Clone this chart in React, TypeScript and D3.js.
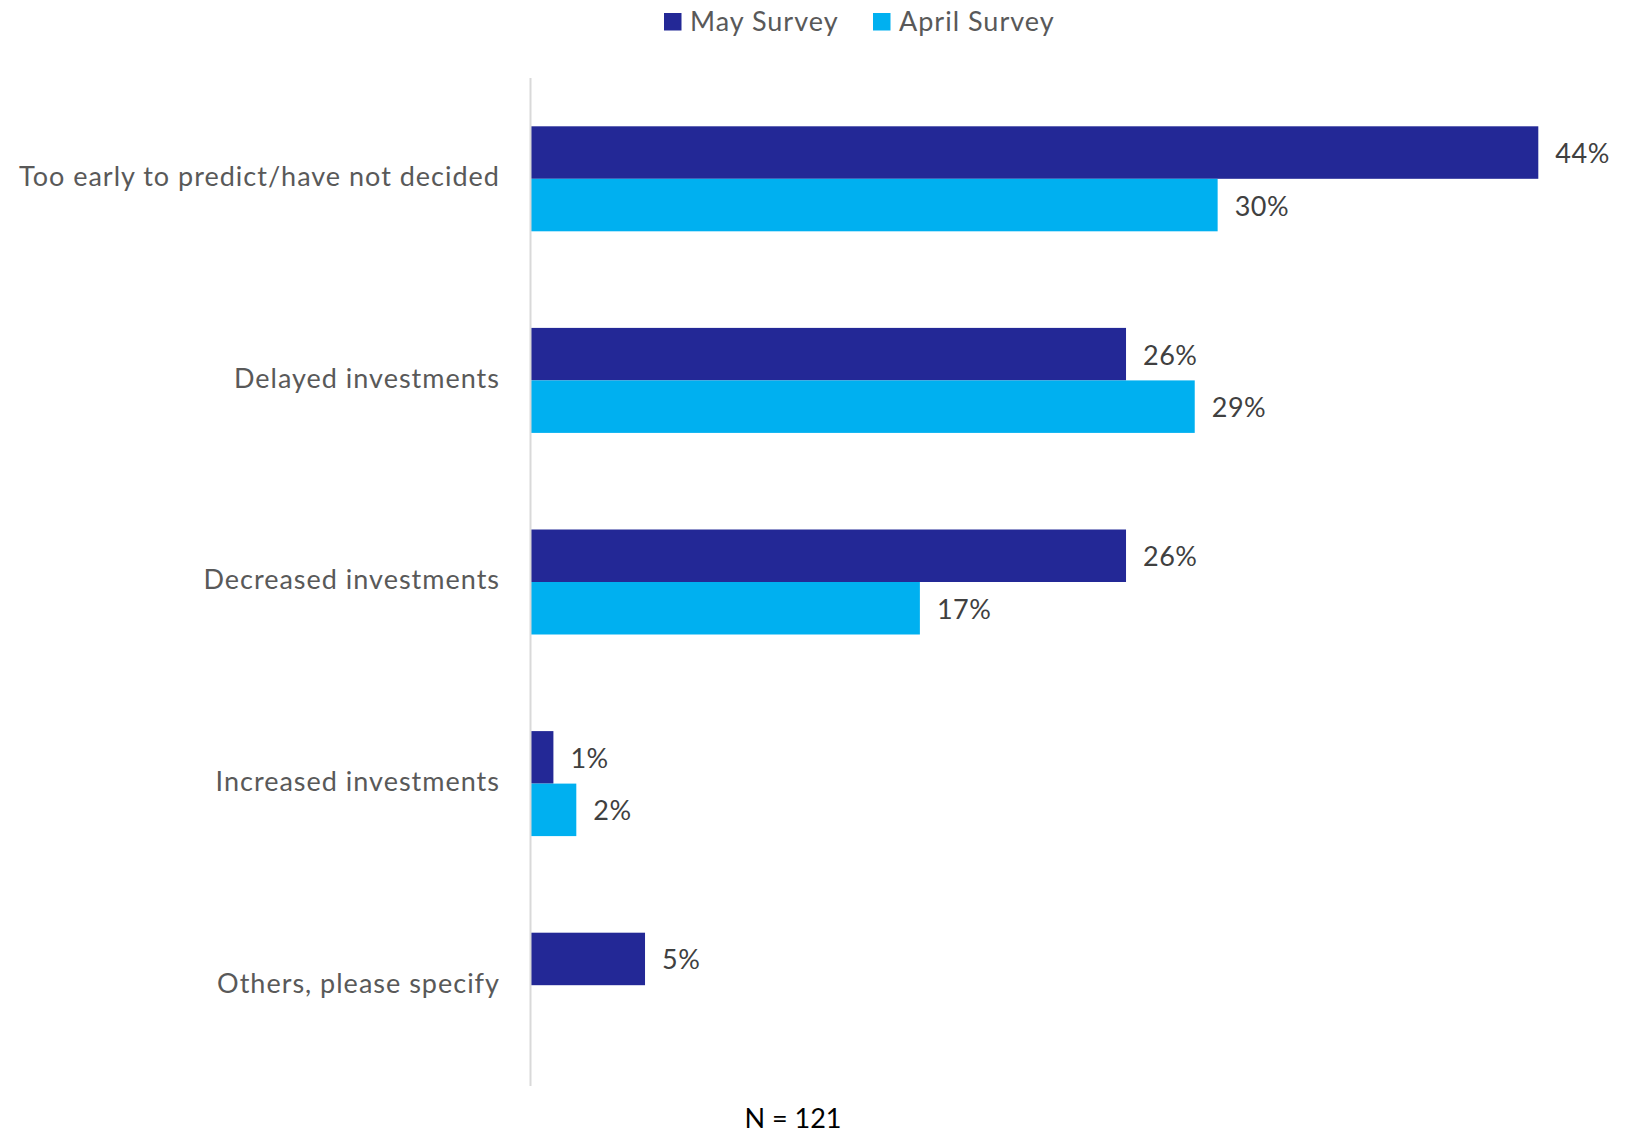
import React from "react";
import * as d3 from "d3";

const categories = [
  "Too early to predict/have not decided",
  "Delayed investments",
  "Decreased investments",
  "Increased investments",
  "Others, please specify",
];
const seriesNames = ["May Survey", "April Survey"];
const mayValues = [44, 26, 26, 1, 5];
const aprilValues: (number | null)[] = [30, 29, 17, 2, null];
const colors = ["#232896", "#00b0f0"];
const footnote = "N = 121";

const W = 1631;
const H = 1132;
const FONT = "Lato, 'Open Sans', sans-serif";

export default function App() {
  const x = d3.scaleLinear().domain([0, 44]).range([530.5, 1538.3]);
  const y = d3.scaleBand<string>().domain(categories).range([78, 1086]).paddingInner(0).paddingOuter(0);
  const bw = y.bandwidth();
  const barH = 52.5;
  const inner = d3.scaleBand<string>().domain(seriesNames).range([bw / 2 - barH, bw / 2 + barH]);
  const series = [mayValues, aprilValues];

  return (
    <svg width={W} height={H} style={{ position: "absolute", left: 0, top: 0, background: "#fff" }}>
      <rect x={0} y={0} width={W} height={H} fill="#fff" />
      {/* legend */}
      <g fontFamily={FONT} fontSize={27} fill="#595959" letterSpacing={1}>
        <rect x={664} y={13} width={17.5} height={17.5} fill={colors[0]} />
        <text x={690} y={20} dominantBaseline="central">{seriesNames[0]}</text>
        <rect x={873} y={13} width={17.5} height={17.5} fill={colors[1]} />
        <text x={899} y={20} dominantBaseline="central">{seriesNames[1]}</text>
      </g>
      {/* bars */}
      {categories.map((c, i) => (
        <g key={c} transform={`translate(0,${y(c)})`}>
          {series.map((vals, s) => {
            const v = vals[i];
            if (v == null) return null;
            const yy = inner(seriesNames[s])!;
            return (
              <g key={s}>
                <rect x={x(0)} y={yy} width={x(v) - x(0)} height={inner.bandwidth()} fill={colors[s]} />
                <text
                  x={x(v) + 17}
                  y={yy + inner.bandwidth() / 2}
                  dominantBaseline="central"
                  fontFamily={FONT}
                  fontSize={27}
                  letterSpacing={0.5}
                  fill="#404040"
                >
                  {v}%
                </text>
              </g>
            );
          })}
          <text
            x={500}
            y={bw / 2 - 3}
            textAnchor="end"
            dominantBaseline="central"
            fontFamily={FONT}
            fontSize={27}
            letterSpacing={1}
            fill="#595959"
          >
            {c}
          </text>
        </g>
      ))}
      {/* axis line */}
      <line x1={x(0)} x2={x(0)} y1={78} y2={1086} stroke="#d9d9d9" strokeWidth={2} />
      <text x={793} y={1117} textAnchor="middle" dominantBaseline="central" fontFamily={FONT} fontSize={27} fill="#000">
        {footnote}
      </text>
    </svg>
  );
}
